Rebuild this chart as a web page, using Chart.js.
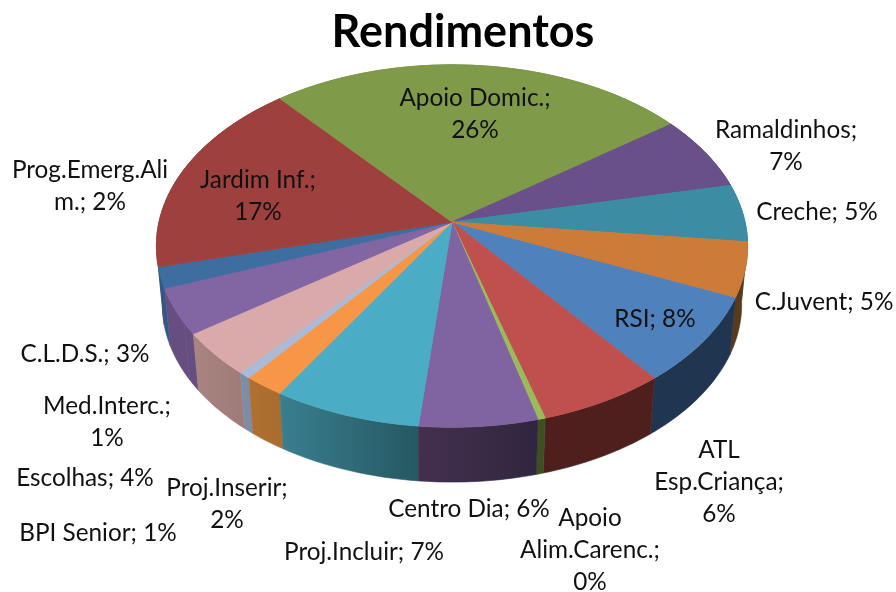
<!DOCTYPE html>
<html>
<head>
<meta charset="utf-8">
<style>html,body{margin:0;padding:0;background:#fff}canvas{display:block}</style>
<script src="https://cdn.jsdelivr.net/npm/chart.js@4/dist/chart.umd.min.js"></script>
</head>
<body>
<canvas id="c" width="896" height="592"></canvas>
<script>
const chartTitle = "Rendimentos";
const categories = ["RSI","ATL Esp.Criança","Apoio Alim.Carenc.","Centro Dia","Proj.Incluir","Proj.Inserir","BPI Senior","Escolhas","Med.Interc.","C.L.D.S.","Prog.Emerg.Alim.","Jardim Inf.","Apoio Domic.","Ramaldinhos","Creche","C.Juvent"];
const values = [7.83,6.14,0.36,5.71,7.13,1.94,0.58,3.92,1.0,3.06,1.86,17.73,26.1,6.69,5.14,4.81];
const labelLines = [["RSI; 8%"],["ATL","Esp.Criança;","6%"],["Apoio","Alim.Carenc.;","0%"],["Centro Dia; 6%"],["Proj.Incluir; 7%"],["Proj.Inserir;","2%"],["BPI Senior; 1%"],["Escolhas; 4%"],["Med.Interc.;","1%"],["C.L.D.S.; 3%"],["Prog.Emerg.Ali","m.; 2%"],["Jardim Inf.;","17%"],["Apoio Domic.;","26%"],["Ramaldinhos;","7%"],["Creche; 5%"],["C.Juvent; 5%"]];
const faceColors = ["#4F81BD","#C0504D","#9BBB59","#8064A2","#4BACC6","#F79646","#AABAD7","#D9AAA9","#8265A3","#8265A3","#3E6DA0","#9E413E","#7F9A48","#69508A","#3C8DA3","#CC7B38"];
const wallStart = ["#1F3550","#4F1F1E","#3F4F22","#30263F","#255862","#A86D30","#7E8DA5","#A07C78","#664F80","#664F80","#2D5A88","#7A302E","#5F7436","#4F3C68","#2D6A7A","#5A3A1C"];
const wallEnd   = ["#1F3550","#4F1F1E","#3F4F22","#43304F","#3A7F8F","#B0702F","#7E8DA5","#A98480","#664F80","#664F80","#2D5A88","#7A302E","#5F7436","#4F3C68","#2D6A7A","#5A3A1C"];
// Text layout: centre x and first baseline of each label, in categories order
const labelAnchors = [[655,327],[719,458],[590,526],[469,517],[364,560],[227,496],[98,541],[85,486],[107,414],[85,362],[90,178],[258,188],[475,106],[786,138],[817,220],[824,310]];
const labelFont = "24.3px Lato, 'Open Sans', sans-serif";
const labelLeading = 32;
// View of the tilted disc
const view = {shiftX:-11, shiftY:0, xRatio:293/163, yRatio:178/163, persp:0.1326, depth:59, shrink:0.98, steps:48};

function project(el, a, lower){
  const R = el.outerRadius;
  const s = lower ? view.shrink : 1;
  const cx = el.x + view.shiftX, cy = el.y + view.shiftY + (lower ? view.depth : 0);
  const w = 1 - view.persp*Math.sin(a);
  return [cx + s*R*view.xRatio*Math.cos(a)/w, cy + s*R*view.yRatio*Math.sin(a)/w];
}
function arcPts(el, lower){
  const pts = [];
  const n = Math.max(2, Math.ceil(view.steps*(el.endAngle-el.startAngle)));
  for(let i=0;i<=n;i++) pts.push(project(el, el.startAngle+(el.endAngle-el.startAngle)*i/n, lower));
  return pts;
}
const disc3d = {
  id:"disc3d",
  beforeDatasetDraw(chart,args){
    const ctx = chart.ctx, els = chart.getDatasetMeta(args.index).data;
    ctx.save();
    ctx.lineJoin = "round";
    const order = els.map((e,i)=>i).sort((p,q)=>Math.sin((els[p].startAngle+els[p].endAngle)/2)-Math.sin((els[q].startAngle+els[q].endAngle)/2));
    order.forEach(i=>{
      const el = els[i], top = arcPts(el,false), low = arcPts(el,true).reverse();
      const g = ctx.createLinearGradient(top[0][0],0,top[top.length-1][0]+0.01,0);
      g.addColorStop(0,wallStart[i]);
      g.addColorStop(1,wallEnd[i]);
      ctx.beginPath();
      top.concat(low).forEach((p,k)=>k?ctx.lineTo(p[0],p[1]):ctx.moveTo(p[0],p[1]));
      ctx.closePath();
      ctx.fillStyle = g; ctx.strokeStyle = g; ctx.lineWidth = 0.6;
      ctx.fill(); ctx.stroke();
    });
    els.forEach((el,i)=>{
      const pts = arcPts(el,false);
      ctx.beginPath();
      ctx.moveTo(el.x+view.shiftX, el.y+view.shiftY);
      pts.forEach(p=>ctx.lineTo(p[0],p[1]));
      ctx.closePath();
      ctx.fillStyle = el.options.backgroundColor;
      ctx.strokeStyle = el.options.backgroundColor;
      ctx.lineWidth = 1;
      ctx.fill(); ctx.stroke();
    });
    ctx.restore();
    return false;
  },
  afterDatasetsDraw(chart){
    const ctx = chart.ctx;
    ctx.save();
    ctx.font = labelFont; ctx.fillStyle = "#111"; ctx.textAlign = "center"; ctx.textBaseline = "alphabetic";
    labelLines.forEach((lines,i)=>lines.forEach((t,k)=>ctx.fillText(t,labelAnchors[i][0],labelAnchors[i][1]+k*labelLeading)));
    ctx.restore();
  }
};
new Chart(document.getElementById("c"),{
  type:"pie",
  data:{labels:categories,datasets:[{data:values,backgroundColor:faceColors,borderWidth:0}]},
  options:{
    responsive:false,animation:false,rotation:113.6,
    layout:{padding:{left:30,right:0,top:0,bottom:207}},
    plugins:{
      legend:{display:false},tooltip:{enabled:false},
      title:{display:true,text:chartTitle,color:"#000",font:{family:"Lato, 'Open Sans', sans-serif",size:45,weight:"bold"},padding:{top:5,bottom:0}}
    }
  },
  plugins:[disc3d]
});
</script>
</body>
</html>
